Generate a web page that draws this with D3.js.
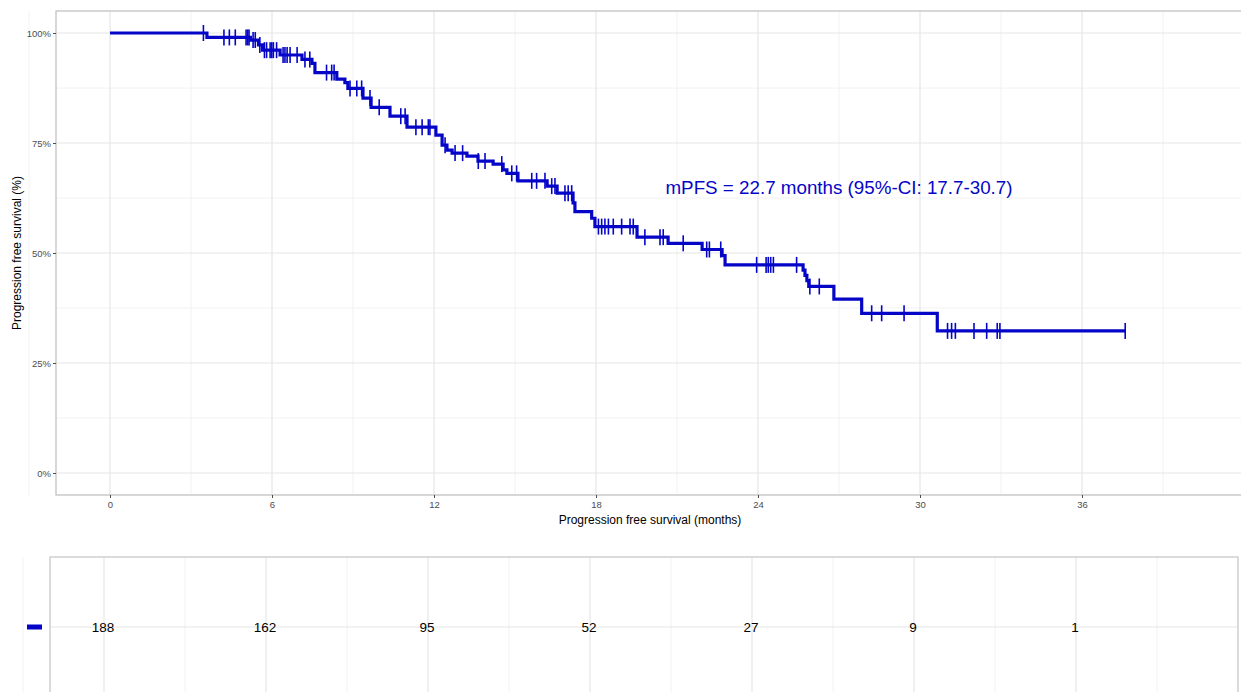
<!DOCTYPE html>
<html lang="en">
<head>
<meta charset="UTF-8">
<title>PFS</title>
<script src="https://d3js.org/d3.v7.min.js"></script>
<style>
  body { margin: 0; background: #fff; }
  text { font-family: "Liberation Sans", Arial, sans-serif; }
</style>
</head>
<body>
<script>
// Kaplan-Meier steps (time in months, survival)
var stepTimes = [3.59, 5.2, 5.5, 5.65, 6.3, 7.11, 7.48, 7.59, 8.4, 8.7, 8.81, 9.37, 9.67, 10.37, 11.0,
  12.07, 12.3, 12.48, 12.67, 13.22, 13.63, 14.19, 14.56, 14.7, 15.11, 16.19, 16.56, 17.15, 17.22,
  17.84, 17.96, 19.52, 20.67, 21.93, 22.67, 22.78, 25.67, 25.74, 25.81, 25.88, 26.81, 27.84, 30.64]
var stepSurv = [0.990, 0.984, 0.973, 0.961, 0.950, 0.940, 0.931, 0.910, 0.895, 0.887, 0.874, 0.852, 0.831, 0.811, 0.786,
  0.768, 0.745, 0.734, 0.727, 0.720, 0.709, 0.702, 0.689, 0.681, 0.664, 0.652, 0.636, 0.614, 0.594,
  0.579, 0.560, 0.536, 0.522, 0.508, 0.494, 0.473, 0.461, 0.449, 0.437, 0.424, 0.395, 0.363, 0.323]
var lastTime = 37.6

// censored observations (months)
var censorTimes = [3.46, 4.22, 4.42, 4.64, 5.04, 5.1, 5.15, 5.3, 5.38, 5.55, 5.72, 5.8, 5.93, 5.99, 6.05, 6.17,
  6.41, 6.48, 6.56, 6.67, 6.93, 7.22, 7.4, 8.02, 8.21, 8.3, 8.89, 9.14, 9.32, 9.63, 9.97, 10.77, 10.93,
  11.33, 11.56, 11.79, 11.85, 12.41, 12.78, 13.06, 13.64, 13.89, 14.51, 14.88, 15.06, 15.62, 15.8, 16.11,
  16.36, 16.48, 16.85, 16.97, 17.1, 18.09, 18.21, 18.33, 18.46, 18.64, 18.95, 19.26, 19.38, 19.81, 20.37,
  20.49, 21.23, 22.1, 22.2, 22.62, 23.95, 24.3, 24.38, 24.47, 24.57, 25.43, 25.92, 26.27, 28.21, 28.58,
  29.41, 31.02, 31.17, 31.31, 32.0, 32.47, 32.86, 32.96, 37.6]

// number at risk
var riskTimes = [0, 6, 12, 18, 24, 30, 36]
var riskCounts = [188, 162, 95, 52, 27, 9, 1]

var xTicks = [0, 6, 12, 18, 24, 30, 36]
var xMinor = [-3, 3, 9, 15, 21, 27, 33, 39]
var yTicks = [0, 0.25, 0.5, 0.75, 1]
var yMinor = [0.125, 0.375, 0.625, 0.875]
var label = "mPFS = 22.7 months (95%-CI: 17.7-30.7)"

var blue = "#0505c8"
var width = 1241, height = 692

var svg = d3.select("body").append("svg")
  .attr("width", width)
  .attr("height", height)

// main panel
var x = d3.scaleLinear().domain([-2, 42]).range([56, 1244])
var y = d3.scaleLinear().domain([-0.05, 1.05]).range([495, 11])

var grid = svg.append("g")
grid.selectAll(".vmin").data(xMinor).enter().append("line")
  .attr("x1", d => x(d)).attr("x2", d => x(d)).attr("y1", 11).attr("y2", 495)
  .attr("stroke", "#f2f2f2").attr("stroke-width", 1)
grid.selectAll(".hmin").data(yMinor).enter().append("line")
  .attr("x1", 56).attr("x2", 1244).attr("y1", d => y(d)).attr("y2", d => y(d))
  .attr("stroke", "#f2f2f2").attr("stroke-width", 1)
grid.selectAll(".vmaj").data(xTicks).enter().append("line")
  .attr("x1", d => x(d)).attr("x2", d => x(d)).attr("y1", 11).attr("y2", 495)
  .attr("stroke", "#e6e6e6").attr("stroke-width", 1.2)
grid.selectAll(".hmaj").data(yTicks).enter().append("line")
  .attr("x1", 56).attr("x2", 1244).attr("y1", d => y(d)).attr("y2", d => y(d))
  .attr("stroke", "#e6e6e6").attr("stroke-width", 1.2)

svg.append("rect")
  .attr("x", 56).attr("y", 11).attr("width", 1188).attr("height", 484)
  .attr("fill", "none").attr("stroke", "#c2c2c2").attr("stroke-width", 1.3)

// axes
var xAxis = svg.append("g")
  .attr("transform", "translate(0,495)")
  .call(d3.axisBottom(x).tickValues(xTicks).tickSize(3).tickPadding(3))
var yAxis = svg.append("g")
  .attr("transform", "translate(56,0)")
  .call(d3.axisLeft(y).tickValues(yTicks).tickSize(3).tickPadding(2)
    .tickFormat(d => Math.round(d * 100) + "%"))
;[xAxis, yAxis].forEach(function (a) {
  a.select(".domain").remove()
  a.selectAll(".tick line").attr("stroke", "#4d4d4d")
  a.selectAll("text").attr("fill", "#4d4d4d").style("font-size", "9.5px")
    .style("font-family", "'Liberation Sans', Arial, sans-serif")
})

svg.append("text")
  .attr("x", 650).attr("y", 524)
  .attr("text-anchor", "middle")
  .style("font-size", "12px")
  .text("Progression free survival (months)")
svg.append("text")
  .attr("transform", "translate(21,253) rotate(-90)")
  .attr("text-anchor", "middle")
  .style("font-size", "12px")
  .text("Progression free survival (%)")

// curve
var pts = [[0, 1]]
stepTimes.forEach(function (t, i) { pts.push([t, stepSurv[i]]) })
pts.push([lastTime, stepSurv[stepSurv.length - 1]])

var line = d3.line()
  .x(d => x(d[0])).y(d => y(d[1]))
  .curve(d3.curveStepAfter)

svg.append("path")
  .datum(pts)
  .attr("d", line)
  .attr("fill", "none")
  .attr("stroke", blue)
  .attr("stroke-width", 3.2)

function survAt(t) {
  var i = d3.bisectRight(stepTimes, t)
  return i === 0 ? 1 : stepSurv[i - 1]
}

svg.append("g").selectAll("line")
  .data(censorTimes).enter().append("line")
  .attr("x1", d => x(d)).attr("x2", d => x(d))
  .attr("y1", d => y(survAt(d)) - 8).attr("y2", d => y(survAt(d)) + 8)
  .attr("stroke", blue).attr("stroke-width", 1.6)

svg.append("text")
  .attr("x", x(27)).attr("y", y(0.65) + 7)
  .attr("text-anchor", "middle")
  .attr("fill", blue)
  .style("font-size", "18.8px")
  .text(label)

// risk table
var xt = d3.scaleLinear().domain([-2, 42]).range([50, 1238])
var rowY = 627
var tbl = svg.append("g")
tbl.selectAll(".tmin").data(xMinor).enter().append("line")
  .attr("x1", d => xt(d)).attr("x2", d => xt(d)).attr("y1", 557).attr("y2", 697)
  .attr("stroke", "#f2f2f2").attr("stroke-width", 1)
tbl.selectAll(".tmaj").data(xTicks).enter().append("line")
  .attr("x1", d => xt(d)).attr("x2", d => xt(d)).attr("y1", 557).attr("y2", 697)
  .attr("stroke", "#e6e6e6").attr("stroke-width", 1.2)
tbl.append("line")
  .attr("x1", 50).attr("x2", 1238).attr("y1", rowY).attr("y2", rowY)
  .attr("stroke", "#e6e6e6").attr("stroke-width", 1.2)
tbl.append("rect")
  .attr("x", 50).attr("y", 557).attr("width", 1188).attr("height", 140)
  .attr("fill", "none").attr("stroke", "#c8c8c8").attr("stroke-width", 1.3)

tbl.selectAll(".num").data(riskCounts).enter().append("text")
  .attr("x", (d, i) => xt(riskTimes[i]) - 1)
  .attr("y", rowY + 5)
  .attr("text-anchor", "middle")
  .style("font-size", "13.5px")
  .text(d => d)

tbl.append("rect")
  .attr("x", 27).attr("y", rowY - 2.5).attr("width", 15).attr("height", 5)
  .attr("fill", blue)
</script>
</body>
</html>
